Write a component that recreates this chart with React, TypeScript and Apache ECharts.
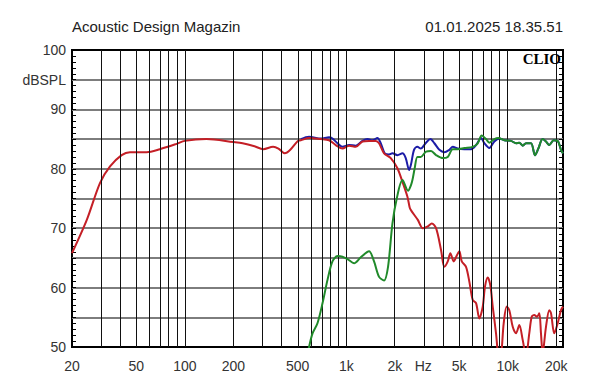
import React, { useEffect, useRef } from "react";
import * as echarts from "echarts";

// ---- data (frequency in Hz, level in dB SPL) ----
const redFreqs = [20, 24.7, 29.8, 34.4, 40.6, 45.7, 58, 70, 89, 100, 136, 200, 228, 270, 306, 352, 380, 416, 450, 502, 523, 588, 695, 782, 861, 947, 1041, 1145, 1260, 1384, 1522, 1596, 1714, 1886, 2074, 2228, 2392, 2470, 2520, 2774, 2979, 3197, 3385, 3599, 3865, 4051, 4252, 4413, 4632, 4856, 5017, 5192, 5518, 5784, 6073, 6365, 6671, 7002, 7236, 7520, 7804, 8075, 8464, 8745, 9000, 9445, 9858, 10230, 10740, 11260, 11800, 12380, 12980, 13600, 14080, 14610, 15180, 15690, 16070, 16460, 17260, 18090, 18540, 19430, 20400, 21380, 22000];
const redDb = [65.8, 71.4, 77.6, 80.4, 82.3, 82.8, 82.8, 83.3, 84.2, 84.7, 85.0, 84.5, 84.3, 83.8, 83.3, 83.7, 83.4, 82.6, 83.2, 84.7, 84.8, 85.2, 85.0, 84.8, 84.0, 83.4, 83.9, 83.7, 84.6, 84.7, 84.7, 84.3, 82.6, 81.8, 80.1, 77.8, 75.3, 73.5, 73.0, 71.4, 70.0, 70.3, 70.8, 70.0, 66.3, 63.5, 64.4, 65.8, 64.4, 65.5, 66.1, 64.4, 63.5, 61.0, 57.9, 57.4, 54.8, 56.8, 60.2, 61.7, 60.4, 56.8, 52.3, 48.5, 48.0, 54.0, 56.8, 56.2, 53.4, 52.3, 53.7, 51.2, 48.5, 52.3, 55.1, 55.4, 55.1, 55.7, 52.3, 49.0, 53.4, 56.2, 55.7, 52.3, 54.0, 56.2, 56.8];

const blueFreqs = [523, 588, 695, 782, 821, 882, 947, 1041, 1145, 1260, 1353, 1452, 1560, 1635, 1731, 1840, 1932, 2074, 2228, 2335, 2450, 2520, 2628, 2758, 2891, 3120, 3318, 3513, 3772, 4051, 4350, 4566, 4904, 5386, 5927, 6365, 6835, 7164, 7693, 8262, 8872, 9528, 10480, 11260, 11800, 12380, 12980, 13940, 14760, 15470, 16460, 17260, 18090, 19260, 20400, 21380, 22000];
const blueDb = [85.0, 85.4, 85.1, 85.3, 85.1, 84.3, 83.7, 84.0, 83.9, 84.7, 85.0, 84.8, 85.2, 84.3, 82.6, 82.4, 82.6, 82.3, 82.6, 81.8, 79.8, 80.8, 83.2, 83.7, 83.4, 84.4, 85.0, 84.3, 83.2, 82.8, 83.2, 83.7, 83.4, 83.3, 83.3, 84.0, 85.2, 84.3, 83.5, 84.6, 85.1, 84.8, 84.7, 84.3, 84.4, 83.9, 84.3, 84.3, 82.3, 83.4, 85.0, 84.6, 84.0, 84.8, 84.7, 83.2, 82.6];

const greenFreqs = [570, 588, 618, 663, 713, 765, 821, 882, 947, 1017, 1118, 1230, 1384, 1486, 1596, 1714, 1814, 1932, 2054, 2228, 2413, 2520, 2569, 2650, 2758, 2891, 3120, 3352, 3599, 3960, 4252, 4566, 4904, 5386, 6073, 6521, 6903, 7340, 7693, 8262, 8745, 9528, 10480, 11260, 11800, 12380, 12980, 13940, 14760, 15470, 16460, 17260, 18090, 19260, 20400, 21380, 22000];
const greenDb = [48.0, 50.0, 52.3, 54.0, 57.4, 61.3, 64.4, 65.3, 65.2, 64.8, 64.1, 65.1, 66.1, 64.4, 61.8, 61.2, 63.5, 70.8, 75.0, 78.1, 76.3, 77.3, 78.1, 80.0, 82.0, 82.0, 82.9, 83.0, 82.3, 81.8, 82.0, 83.3, 83.3, 83.5, 83.7, 84.3, 85.6, 85.0, 84.4, 85.0, 85.2, 84.8, 84.7, 84.3, 84.4, 83.9, 84.3, 84.3, 82.3, 83.4, 85.0, 84.6, 84.0, 84.8, 84.7, 83.2, 82.6];

const xLabelFreqs = [20, 50, 100, 200, 500, 1000, 2000, 3000, 5000, 10000, 20000];
const xLabelTexts = ["20", "50", "100", "200", "500", "1k", "2k", "Hz", "5k", "10k", "20k"];
const gridFreqs = [30, 40, 50, 60, 70, 80, 90, 100, 200, 300, 400, 500, 600, 700, 800, 900, 1000, 2000, 3000, 4000, 5000, 6000, 7000, 8000, 9000, 10000, 20000];
const yLabelValues = [50, 60, 70, 80, 90, 95, 100];
const yUnitValue = 95;
const yUnitText = "dBSPL";

const xMin = 20;
const xMax = 22000;

const lg = (f: number) => Math.log10(f);
const toData = (fs: number[], ds: number[]) => fs.map((f, i) => [lg(f), ds[i]]);

const SANS = '"Liberation Sans", Arial, sans-serif';

export default function App() {
  const ref = useRef<HTMLDivElement>(null);

  useEffect(() => {
    document.body.style.margin = "0";
    if (!ref.current) return;
    const chart = echarts.init(ref.current, null, { renderer: "svg" });

    const curve = (name: string, fs: number[], ds: number[], color: string, z: number) => ({
      name,
      type: "line",
      data: toData(fs, ds),
      showSymbol: false,
      symbol: "none",
      smooth: 0.3,
      clip: true,
      silent: true,
      z,
      lineStyle: { color, width: 2 },
    });

    const tickLine = { color: "#000", width: 1 };

    chart.setOption({
      animation: false,
      backgroundColor: "#ffffff",
      grid: {
        left: 72,
        right: 37,
        top: 50,
        bottom: 37,
        show: true,
        borderColor: "#000",
        borderWidth: 2,
        backgroundColor: "transparent",
      },
      xAxis: {
        type: "value",
        min: lg(xMin),
        max: lg(xMax),
        axisLine: { show: false },
        axisTick: { show: false },
        splitLine: { show: false },
        axisLabel: {
          customValues: xLabelFreqs.map(lg),
          formatter: (v: number) => {
            const i = xLabelFreqs.findIndex((f) => Math.abs(lg(f) - v) < 1e-6);
            return i >= 0 ? xLabelTexts[i] : "";
          },
          margin: 12,
          color: "#333",
          fontSize: 14,
          fontFamily: SANS,
        },
      },
      yAxis: [
        {
          type: "value",
          min: 50,
          max: 100,
          interval: 5,
          axisLine: { show: false },
          axisTick: { show: true, inside: true, length: 4, lineStyle: tickLine },
          minorTick: { show: true, splitNumber: 5, length: 4, lineStyle: tickLine },
          splitLine: { show: true, showMinLine: false, showMaxLine: false, lineStyle: { color: "#7d7d7d", width: 2 } },
          axisLabel: {
            customValues: yLabelValues,
            formatter: (v: number) => (v === yUnitValue ? yUnitText : String(v)),
            margin: 6,
            color: "#333",
            fontSize: 14,
            fontFamily: SANS,
          },
        },
        {
          type: "value",
          position: "right",
          min: 50,
          max: 100,
          interval: 5,
          axisLine: { show: false },
          axisTick: { show: true, inside: true, length: 4, lineStyle: tickLine },
          minorTick: { show: true, splitNumber: 5, length: 4, lineStyle: tickLine },
          splitLine: { show: false },
          axisLabel: { show: false },
        },
      ],
      graphic: [
        { type: "text", left: 72, top: 19, style: { text: "Acoustic Design Magazin", font: `15px ${SANS}`, fill: "#222" } },
        { type: "text", right: 37, top: 19, style: { text: "01.01.2025 18.35.51", font: `15px ${SANS}`, fill: "#222" } },
        { type: "text", right: 39, top: 51, z: 10, style: { text: "CLIO", font: 'bold 15px "Liberation Serif", "Times New Roman", serif', fill: "#000" } },
      ],
      series: [
        {
          name: "grid",
          type: "line",
          data: [],
          silent: true,
          z: 1,
          markLine: {
            silent: true,
            symbol: ["none", "none"],
            label: { show: false },
            lineStyle: { color: "#111", width: 1, type: "solid" },
            data: gridFreqs.map((f) => ({ xAxis: lg(f) })),
          },
        },
        curve("sum", blueFreqs, blueDb, "#1c1ca6", 3),
        curve("woofer", redFreqs, redDb, "#c41f26", 4),
        curve("tweeter", greenFreqs, greenDb, "#208a2a", 5),
      ],
    });

    return () => chart.dispose();
  }, []);

  return <div ref={ref} style={{ width: 600, height: 384 }} />;
}
